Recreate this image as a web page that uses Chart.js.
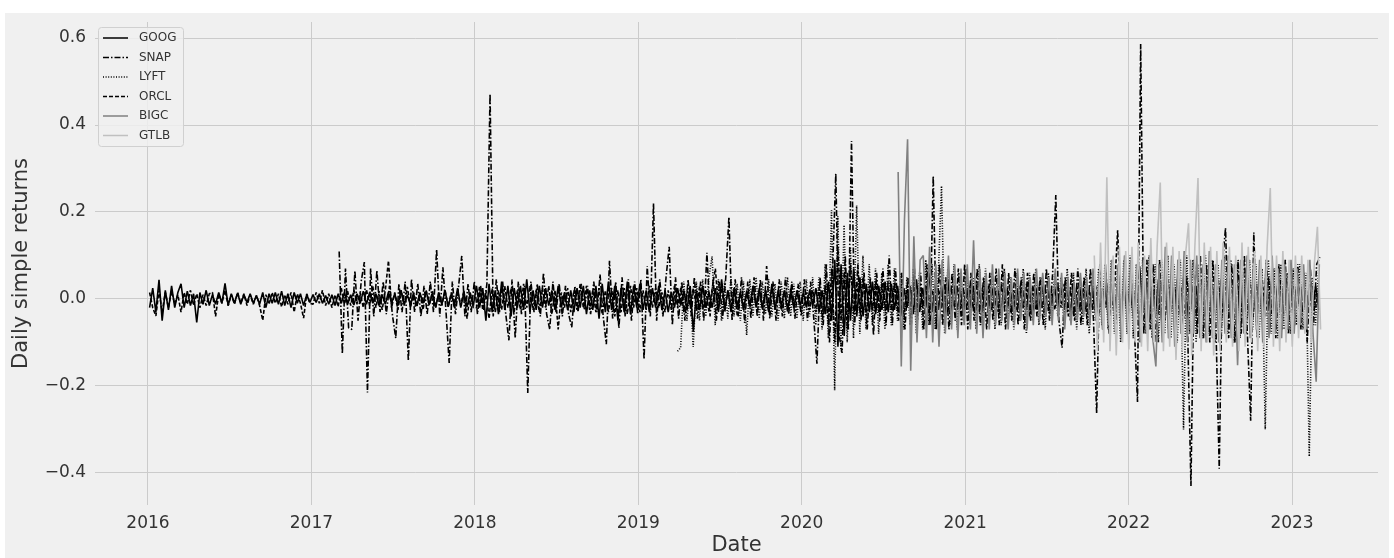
<!DOCTYPE html>
<html>
<head>
<meta charset="utf-8">
<title>Daily simple returns</title>
<script src="https://cdn.jsdelivr.net/npm/chart.js@4.4.1/dist/chart.umd.min.js"></script>
<style>
  html, body { margin: 0; padding: 0; background: #ffffff; }
  canvas { display: block; }
</style>
</head>
<body>
<canvas id="returns" width="1394" height="558"></canvas>
<script>
// tickers in legend order
var tickers = ["GOOG", "SNAP", "LYFT", "ORCL", "BIGC", "GTLB"];
// first trading date of each series, as decimal year
var starts = [2016.01, 2017.17, 2019.24, 2016.01, 2020.59, 2021.79];
// values, one per week
var step = 1 / 52;
var xTicks = [2016, 2017, 2018, 2019, 2020, 2021, 2022, 2023];
var yTicks = [-0.4, -0.2, 0.0, 0.2, 0.4, 0.6];

var goog = [
  -.02,.025,-.03,.044,-.05,.02,-.025,.03,-.02,.015,.035,-.02,.018,-.015,.012,-.054,.015,-.012,.02,-.015,.01,-.012,.015,-.01,.036,-.015,.012,-.01,.014,-.012,.01,-.008,.012,-.01,.008,-.012,.015,-.02,.012,-.01,.015,-.012,.018,-.015,.012,-.02,.015,-.01,.012,-.015,.01,-.008,
  .01,-.008,.012,-.01,.008,-.012,.01,-.015,.012,-.01,.015,-.012,.01,-.014,.012,-.01,.018,-.012,.015,-.01,.012,-.015,.01,-.012,.016,-.01,.012,-.015,.02,-.012,.01,-.014,.012,-.016,.015,-.01,.018,-.012,.014,-.02,.015,-.012,.02,-.018,.012,-.015,.025,-.02,.015,-.018,.012,-.015,
  .03,-.02,.025,-.05,.035,-.03,.02,-.035,.04,-.025,.03,-.04,.025,-.02,.03,-.025,.045,-.03,.02,-.025,.03,-.02,.025,-.015,.02,-.025,.03,-.02,.015,-.025,.02,-.03,.025,-.02,.03,-.035,.02,-.025,.03,-.045,.035,-.03,.04,-.025,.03,-.05,.025,-.03,.04,-.035,.03,-.02,
  .035,-.025,.02,-.03,.025,-.02,.03,-.025,.02,-.03,.015,-.02,.025,-.015,.02,-.025,.03,-.075,.02,-.025,.03,-.02,.015,-.02,.025,-.03,.045,-.025,.02,-.03,.025,-.02,.015,-.025,.02,-.015,.03,-.02,.025,-.02,.02,-.03,.035,-.025,.02,-.015,.02,-.025,.015,-.02,.02,-.015,
  .015,-.02,.02,-.015,.025,-.03,.02,-.035,.04,-.05,.09,-.11,.08,-.085,.06,-.05,.07,-.04,.05,-.04,.035,-.03,.04,-.035,.03,-.025,.04,-.03,.035,-.025,.03,-.04,.025,-.02,.03,-.035,.045,-.03,.025,-.02,.06,-.03,.035,-.025,.03,-.04,.045,-.035,.03,-.025,.02,-.03,
  .025,-.02,.03,-.025,.02,-.03,.04,-.02,.025,-.015,.02,-.025,.03,-.02,.015,-.02,.025,-.03,.02,-.025,.03,-.04,.025,-.02,.03,-.025,.02,-.015,.025,-.02,.03,-.025,.02,-.03,.035,-.02,.025,-.03,.02,-.025,.03,-.035,.025,-.02,.03,-.04,.035,-.025,.03,-.02,.025,-.03,
  .03,-.04,.035,.075,-.03,.04,-.045,.03,-.035,.045,-.05,.035,-.04,.04,-.03,.045,-.035,.05,-.045,.04,-.035,.03,-.045,.035,-.04,.05,-.035,.03,-.04,.045,-.03,.035,-.04,.04,-.045,.05,-.035,.07,-.04,.035,-.03,.045,-.035,.03,-.025,.04,-.035,.045,-.03,.035,-.04,.03,
  -.025,.03,-.02,.04,-.03,.025,-.02,.03,-.025
];

var snap = [
  .109,-.126,.07,-.066,-.07,.065,-.05,.04,.085,-.215,.07,-.04,.065,-.03,.04,-.035,.03,-.04,-.09,.035,-.03,.04,-.142,.045,-.03,.035,-.04,.03,-.035,.04,-.03,.114,-.04,.073,-.03,-.147,.04,-.035,.03,.099,-.04,.035,-.03,.04,-.035,.03,-.025,.035,.472,-.04,.045,-.03,
  .04,-.035,-.095,.045,-.09,.04,-.035,.03,-.216,.04,-.03,.035,-.04,.06,-.035,-.07,.04,-.03,.035,-.04,.03,-.035,-.065,.03,-.03,.035,-.025,.03,-.035,.04,-.03,.056,-.04,-.104,.088,-.045,.04,-.067,.05,-.04,.045,-.05,.04,-.035,.045,-.139,.076,-.04,.22,-.05,.045,-.04,
  .05,.12,-.06,.05,-.045,.04,-.05,.045,-.04,.05,-.045,.04,-.05,.106,-.04,.045,-.05,.04,-.045,.05,.188,-.05,.045,-.04,.05,-.055,.04,-.045,.05,-.04,.045,-.05,.076,-.045,.04,-.05,.045,-.04,.05,-.035,.04,-.045,.035,-.04,.045,-.05,.04,-.045,-.149,.05,-.06,.08,
  -.1,.07,.288,-.08,-.124,.1,-.07,.363,-.06,.08,-.05,.06,-.07,.05,-.083,.06,-.05,.07,-.06,.1,-.06,.07,-.05,.06,-.07,.05,-.06,.07,-.05,.06,-.07,.08,-.06,.283,-.07,.08,-.06,.05,-.07,.06,-.05,.07,-.06,.08,-.07,.06,-.05,.07,-.06,.05,-.07,.06,
  -.05,.07,-.06,.08,-.07,.06,-.05,.07,-.06,.05,-.07,.06,-.05,.06,-.04,.05,-.06,.07,-.05,.06,.239,-.05,-.112,.05,-.04,.06,-.05,.07,-.06,.05,-.06,.07,-.05,-.263,.08,-.07,.06,-.08,.09,-.06,.07,-.08,.1,-.06,.08,-.07,-.237,.586,-.08,.09,-.07,.08,
  -.1,.09,-.08,.1,-.09,.08,-.1,.09,-.08,.1,-.09,-.43,.09,-.08,.1,-.09,.08,-.1,.09,-.08,-.39,.08,.163,-.09,.08,-.1,.09,-.08,.1,-.09,-.28,.153,-.09,.08,-.07,.09,-.08,.07,-.09,.08,-.07,.09,-.08,.07,-.06,.08,-.07,.06,-.1,.07,-.06,.08,
  .096
];

var lyft = [
  -.12,-.112,.04,-.05,.03,-.11,.04,-.05,.045,-.04,.05,.098,-.06,.045,-.05,.04,-.045,.05,-.04,.035,-.05,.04,-.083,.045,-.04,.05,-.045,.04,-.035,.045,-.04,.035,-.05,.04,-.045,.05,-.04,.035,-.045,.04,-.05,.045,-.04,.05,-.06,.05,-.07,.08,-.09,.204,-.21,.19,
  -.12,.17,-.1,.12,-.09,.215,-.08,.1,-.07,.08,-.06,.07,-.08,.06,-.07,.08,-.06,.07,-.05,.06,-.07,.05,-.06,.07,-.08,.06,-.07,.09,-.06,.08,-.07,.06,.26,-.08,.07,-.06,.08,-.07,.06,-.05,.07,-.06,.05,-.07,.08,-.06,.07,-.05,.06,-.07,.05,-.06,
  .07,-.06,.05,-.07,.06,-.05,.07,-.08,.06,-.05,.07,-.06,.05,-.07,.06,-.05,.06,-.04,.05,-.06,.07,-.05,.06,-.07,.05,-.06,.07,-.08,.06,-.05,.07,-.06,.08,-.07,.09,-.08,.07,-.1,.09,-.08,.1,-.09,.08,-.1,.09,-.08,.1,-.09,.08,-.1,.09,-.08,
  .1,-.09,.08,-.1,.09,-.3,.1,-.08,.09,-.1,.08,-.09,.1,-.08,.09,-.1,.08,-.09,.1,-.08,.09,-.1,.08,-.09,.07,-.08,.09,-.07,.08,-.09,.07,-.3,.09,-.08,.07,-.09,.08,-.07,.06,-.08,.07,-.06,.08,-.07,.06,-.362,.05,-.06,.07
];

var orcl = [
  .015,-.02,-.039,.02,-.03,.015,-.02,.018,-.012,.01,-.03,.015,-.012,.02,-.015,.012,-.02,.01,-.015,.012,.015,-.04,.012,-.01,.02,-.015,.01,-.012,.015,-.01,.012,-.015,.01,-.012,.008,-.015,-.049,.01,-.012,.015,-.01,.012,-.018,.01,-.012,.015,-.03,.012,-.01,-.044,.012,-.01,
  -.012,.015,-.01,.02,-.015,.012,-.02,.01,-.018,.025,-.012,.018,-.015,.02,-.01,.015,-.02,.022,-.015,.03,-.02,.018,-.025,.02,.088,-.02,.015,-.025,.02,-.015,.028,-.02,.015,-.018,.012,-.025,.02,-.015,.018,-.02,.012,-.015,.02,-.018,.015,-.022,.018,-.015,.02,-.045,.015,-.02,
  -.02,.03,-.025,.02,-.045,.025,-.03,.02,-.025,.03,-.02,.025,-.03,.02,-.025,.035,-.02,.03,-.025,.02,-.03,.025,-.02,.03,-.035,.02,-.07,.015,-.02,.025,-.03,.02,-.025,.035,-.02,.03,-.025,.02,-.03,.025,-.035,.02,-.03,.025,-.04,.02,-.03,.025,-.035,.03,-.02,.025,
  -.03,.02,-.025,.03,-.02,.025,-.02,.015,-.03,.02,-.025,.03,-.02,.025,-.03,.02,-.015,.025,-.02,.03,-.025,.02,-.03,.025,.07,-.02,.025,-.03,.02,-.015,.025,-.04,.02,-.025,.015,-.02,.03,-.015,.02,-.025,.02,-.03,.025,-.02,.015,-.025,.02,-.03,.025,-.02,.015,-.02,
  -.02,.015,-.025,.02,-.03,.025,-.04,.03,-.06,.07,-.1,.12,-.05,.06,-.07,.08,-.035,.04,-.03,.05,-.04,.03,-.025,.04,-.03,.035,-.02,.03,-.025,.035,-.03,.02,-.035,.03,-.025,.04,-.03,.025,-.02,.03,-.035,.02,-.03,.025,-.02,.035,-.03,.025,-.02,.03,-.025,.02,
  -.025,.03,-.02,.04,-.03,.025,-.02,.03,-.025,.02,-.03,.035,-.02,.025,-.03,.02,-.025,.03,-.02,.035,-.04,.03,-.025,.03,-.02,.025,-.03,.02,-.025,.03,-.02,.035,-.03,.025,-.04,.03,-.02,.025,-.03,.02,-.025,.03,-.035,.025,-.02,.03,-.025,.02,.158,-.03,.025,-.02,
  .02,-.03,.04,-.045,.035,-.03,.05,-.04,.03,-.035,.04,-.05,.045,-.03,.035,-.04,.03,-.045,.05,-.035,.03,-.04,.045,-.03,.035,-.04,.03,-.035,.045,-.05,.04,-.03,.035,-.045,.05,-.04,.03,-.035,.04,-.045,.035,-.03,.045,-.04,.05,-.035,.03,-.04,.045,-.035,.04,-.03,
  .03,-.02,.025,-.03,.02,-.025,.03,-.02,.025
];

var bigc = [
  .292,-.155,.18,.367,-.165,.144,-.1,.09,.1,-.09,.12,-.1,.08,-.11,.09,-.08,.1,-.07,.08,-.09,.07,-.06,.08,-.07,.135,-.08,.07,-.09,.06,-.07,.08,-.06,.07,-.05,.06,-.07,.05,-.06,.07,-.05,.06,-.07,.05,-.06,.07,-.05,.06,-.04,.05,-.06,.07,-.05,
  .06,-.07,.05,-.06,.04,-.05,.06,-.04,.05,-.06,.07,-.05,.06,-.07,.08,-.06,.09,-.07,.08,-.09,.1,-.08,.09,-.07,.08,-.1,.09,-.08,.1,-.09,-.155,.08,-.1,.12,-.09,.1,-.11,.09,-.08,.11,-.1,.09,-.08,.1,-.09,.08,-.1,.11,-.09,.08,-.1,.09,
  -.08,.1,-.09,.08,-.152,.09,-.08,.1,-.09,.08,-.07,.09,-.1,.08,-.09,.1,-.08,.07,-.09,.08,-.07,.09,-.08,.07,-.06,.08,-.07,.09,-.08,-.19,.08
];

var gtlb = [
  .1,-.12,.13,-.1,.28,-.12,.1,-.13,.12,-.1,.11,-.116,.12,-.1,.13,-.11,.1,-.12,.14,-.1,.12,.268,-.12,.13,-.11,.12,-.14,.11,-.12,.1,.174,-.13,.12,.278,-.12,.13,-.1,.12,-.13,.11,-.12,.13,-.1,.12,-.11,.1,-.12,.13,-.11,.12,-.1,.11,
  -.12,.1,-.11,.12,.255,-.11,.1,-.12,.11,-.1,.09,-.11,.1,-.09,.1,-.08,.09,-.1,.08,.166,-.07
];

var values = [goog, snap, lyft, orcl, bigc, gtlb];
var colors = ["#000000", "#000000", "#000000", "#000000", "#808080", "#c0c0c0"];
var dashes = [[], [6, 2, 1.5, 2], [1, 1.6], [4, 2], [], []];

function points(start, vals) {
  return vals.map(function (v, i) { return { x: start + i * step, y: v }; });
}

var datasets = tickers.map(function (t, k) {
  return {
    label: t,
    data: points(starts[k], values[k]),
    borderColor: colors[k],
    borderDash: dashes[k],
    borderWidth: 1.6,
    borderJoinStyle: "bevel",
    pointRadius: 0,
    tension: 0,
    fill: false,
    order: tickers.length - k   // later tickers drawn on top
  };
});

function minusSign(v) {
  if (Math.abs(v) < 1e-9) v = 0;
  return v.toFixed(1).replace("-", "\u2212");
}

// grey figure background
var backdrop = {
  id: "backdrop",
  beforeDraw: function (chart) {
    var c = chart.ctx;
    c.save();
    c.fillStyle = "#f0f0f0";
    c.fillRect(5, 13, chart.width - 10, chart.height - 13);
    c.restore();
  }
};

// matplotlib-like legend box in the upper left of the plot
var legendBox = {
  id: "legendBox",
  afterDraw: function (chart) {
    var c = chart.ctx, a = chart.chartArea;
    var x = a.left + 3, y = a.top + 5, rowH = 19.5;
    c.save();
    c.fillStyle = "rgba(240,240,240,0.85)";
    c.strokeStyle = "#d0d0d0";
    c.lineWidth = 1;
    c.beginPath();
    c.roundRect(x + 0.5, y + 0.5, 85, rowH * 6 + 2, 3);
    c.fill();
    c.stroke();
    c.font = '12px "DejaVu Sans"';
    c.textBaseline = "middle";
    chart.data.datasets.forEach(function (ds, i) {
      var cy = y + 11 + i * rowH;
      c.strokeStyle = ds.borderColor;
      c.lineWidth = 1.5;
      c.setLineDash(ds.borderDash);
      c.beginPath();
      c.moveTo(x + 5, cy);
      c.lineTo(x + 30, cy);
      c.stroke();
      c.setLineDash([]);
      c.fillStyle = "#333333";
      c.fillText(ds.label, x + 41, cy);
    });
    c.restore();
  }
};

Chart.defaults.font.family = '"DejaVu Sans", sans-serif';

var ctx = document.getElementById("returns").getContext("2d");
var chart = new Chart(ctx, {
  type: "line",
  data: { datasets: datasets },
  plugins: [backdrop, legendBox],
  options: {
    responsive: false,
    animation: false,
    devicePixelRatio: 1,
    layout: { padding: { left: 5, top: 22, right: 16, bottom: 0 } },
    plugins: { legend: { display: false }, tooltip: { enabled: false } },
    scales: {
      x: {
        type: "linear",
        min: 2015.676,
        max: 2023.526,
        afterFit: function (s) { s.height = 53; },
        afterBuildTicks: function (s) { s.ticks = xTicks.map(function (v) { return { value: v }; }); },
        grid: { color: "#cbcbcb", lineWidth: 1, drawTicks: false },
        border: { display: false },
        ticks: {
          padding: 8,
          color: "#333333",
          font: { size: 17 },
          maxRotation: 0,
          callback: function (v) { return String(v); }
        },
        title: { display: true, text: "Date", color: "#333333", font: { size: 21 }, padding: { top: 0, bottom: 0 } }
      },
      y: {
        min: -0.4736,
        max: 0.6368,
        afterFit: function (s) { s.width = 90; },
        afterBuildTicks: function (s) { s.ticks = yTicks.map(function (v) { return { value: v }; }); },
        grid: { color: "#cbcbcb", lineWidth: 1, drawTicks: false },
        border: { display: false },
        ticks: {
          padding: 9,
          color: "#333333",
          font: { size: 17 },
          callback: function (v) { return minusSign(v); }
        },
        title: { display: true, text: "Daily simple returns", color: "#333333", font: { size: 21 }, padding: { top: 4, bottom: 0 } }
      }
    }
  }
});
</script>
</body>
</html>
